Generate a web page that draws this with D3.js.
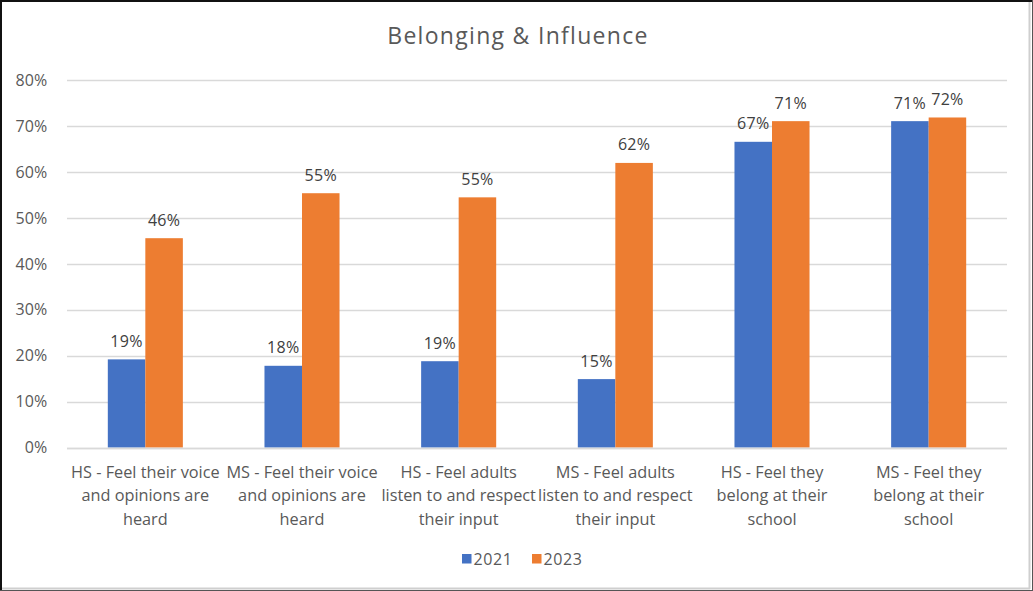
<!DOCTYPE html>
<html>
<head>
<meta charset="utf-8">
<script src="https://cdn.jsdelivr.net/npm/d3@7"></script>
<style>
  html, body { margin: 0; padding: 0; background: #fff; }
  svg { display: block; }
  text { font-family: "Open Sans", "Liberation Sans", sans-serif; }
</style>
</head>
<body>
<svg id="chart" width="1033" height="591"></svg>
<script>
const title = "Belonging & Influence";
const categories = [
  "HS - Feel their voice\nand opinions are\nheard",
  "MS - Feel their voice\nand opinions are\nheard",
  "HS - Feel adults\nlisten to and respect\ntheir input",
  "MS - Feel adults\nlisten to and respect\ntheir input",
  "HS - Feel they\nbelong at their\nschool",
  "MS - Feel they\nbelong at their\nschool"
];
const seriesNames = ["2021", "2023"];
const values2021 = [0.192, 0.178, 0.188, 0.149, 0.666, 0.711];
const values2023 = [0.456, 0.554, 0.545, 0.620, 0.711, 0.719];
const labels2021 = ["19%", "18%", "19%", "15%", "67%", "71%"];
const labels2023 = ["46%", "55%", "55%", "62%", "71%", "72%"];
const yTicks = [0, 0.1, 0.2, 0.3, 0.4, 0.5, 0.6, 0.7, 0.8];
const colors = ["#4472C4", "#ED7D31"];

const svg = d3.select("#chart");
const W = 1033, H = 591;

// border
svg.append("rect").attr("x", 0).attr("y", 0).attr("width", W).attr("height", H).attr("fill", "#fff");
svg.append("line").attr("x1", 0).attr("x2", W).attr("y1", 1).attr("y2", 1).attr("stroke", "#111").attr("stroke-width", 2);
svg.append("line").attr("x1", 1).attr("x2", 1).attr("y1", 0).attr("y2", H).attr("stroke", "#111").attr("stroke-width", 2);
svg.append("line").attr("x1", 1029.5).attr("x2", 1029.5).attr("y1", 2).attr("y2", 589).attr("stroke", "#cfcfcf").attr("stroke-width", 2);
svg.append("line").attr("x1", 2).attr("x2", 1030).attr("y1", 588.5).attr("y2", 588.5).attr("stroke", "#cfcfcf").attr("stroke-width", 2);
svg.append("line").attr("x1", 0).attr("x2", W).attr("y1", 590.5).attr("y2", 590.5).attr("stroke", "#555").attr("stroke-width", 1);
svg.append("line").attr("x1", 1032.5).attr("x2", 1032.5).attr("y1", 0).attr("y2", H).attr("stroke", "#555").attr("stroke-width", 1);

// title
svg.append("text")
  .attr("x", 518).attr("y", 44)
  .attr("text-anchor", "middle")
  .attr("font-size", 23)
  .attr("letter-spacing", 1.3)
  .attr("fill", "#595959")
  .text(title);

const x0 = d3.scaleBand().domain(d3.range(categories.length)).range([67, 1007])
  .paddingInner(0.521).paddingOuter(0.2605);
const x1 = d3.scaleBand().domain(seriesNames).range([0, x0.bandwidth()]);
const y = d3.scaleLinear().domain([0, 0.8]).range([447.5, 80.3]);

// gridlines
svg.append("g").selectAll("line").data(yTicks).join("line")
  .attr("x1", 67).attr("x2", 1007)
  .attr("y1", d => Math.round(y(d)) + 0.5).attr("y2", d => Math.round(y(d)) + 0.5)
  .attr("stroke", "#d9d9d9").attr("stroke-width", 1.3);

// y axis labels
const yAxis = d3.axisLeft(y).tickValues(yTicks).tickFormat(d3.format(".0%")).tickSize(0).tickPadding(0);
const gy = svg.append("g").attr("transform", "translate(47.5,0)").call(yAxis);
gy.select(".domain").remove();
gy.selectAll("text").attr("font-size", 16).attr("fill", "#595959")
  .attr("letter-spacing", 0.2)
  .attr("font-family", "'Open Sans', sans-serif");

// bars
const series = [values2021, values2023];
const seriesLabels = [labels2021, labels2023];
series.forEach((vals, si) => {
  const g = svg.append("g");
  g.selectAll("rect").data(vals).join("rect")
    .attr("x", (d, i) => x0(i) + x1(seriesNames[si]))
    .attr("width", x1.bandwidth())
    .attr("y", d => y(d))
    .attr("height", d => y(0) - y(d))
    .attr("fill", colors[si]);
  g.selectAll("text").data(vals).join("text")
    .attr("x", (d, i) => x0(i) + x1(seriesNames[si]) + x1.bandwidth() / 2)
    .attr("y", d => y(d) - 12.5)
    .attr("text-anchor", "middle")
    .attr("font-size", 16)
    .attr("letter-spacing", 0.3)
    .attr("fill", "#404040")
    .text((d, i) => seriesLabels[si][i]);
});

// x axis line
svg.append("line").attr("x1", 67).attr("x2", 1007)
  .attr("y1", Math.round(y(0)) + 0.5).attr("y2", Math.round(y(0)) + 0.5)
  .attr("stroke", "#d9d9d9").attr("stroke-width", 1.3);

// category labels
const xl = svg.append("g");
categories.forEach((c, i) => {
  const t = xl.append("text")
    .attr("text-anchor", "middle")
    .attr("font-size", 16.3)
    .attr("fill", "#595959");
  c.split("\n").forEach((line, li) => {
    t.append("tspan")
      .attr("x", x0(i) + x0.bandwidth() / 2)
      .attr("y", 477.5 + li * 23.5)
      .text(line);
  });
});

// legend
const legend = svg.append("g");
const legendX = [462, 532];
seriesNames.forEach((s, i) => {
  legend.append("rect").attr("x", legendX[i]).attr("y", 554).attr("width", 9.5).attr("height", 9.5).attr("fill", colors[i]);
  legend.append("text").attr("x", legendX[i] + 11.5).attr("y", 564.5)
    .attr("font-size", 16).attr("letter-spacing", 0.6).attr("fill", "#595959").text(s);
});
</script>
</body>
</html>
